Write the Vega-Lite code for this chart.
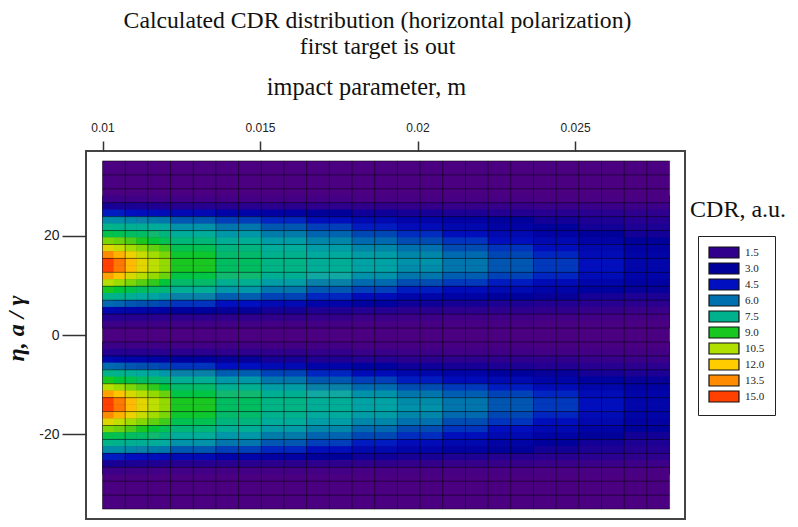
{"$schema":"https://vega.github.io/schema/vega-lite/v6.json","width":599,"height":368,"autosize":{"type":"none"},"padding":{"left":86,"top":151,"right":113,"bottom":8},"background":"white",
"title":{"text":["Calculated CDR distribution (horizontal polarization)","first target is out"],"font":"Liberation Serif","fontSize":23.7,"fontWeight":"normal","color":"#111","lineHeight":26,"anchor":"middle","frame":"group","dx":-8,"offset":16},
"config":{"view":{"stroke":"#444","strokeWidth":2}},
"datasets":{
"base":[{"b":0.01,"b2":0.028,"e":-35,"e2":35,"c":0.5}],
"gridX":[{"b":0.01,"e":-35,"e2":35},{"b":0.01072,"e":-35,"e2":35},{"b":0.01144,"e":-35,"e2":35},{"b":0.01216,"e":-35,"e2":35},{"b":0.01288,"e":-35,"e2":35},{"b":0.0136,"e":-35,"e2":35},{"b":0.01432,"e":-35,"e2":35},{"b":0.01504,"e":-35,"e2":35},{"b":0.01576,"e":-35,"e2":35},{"b":0.01648,"e":-35,"e2":35},{"b":0.0172,"e":-35,"e2":35},{"b":0.01792,"e":-35,"e2":35},{"b":0.01864,"e":-35,"e2":35},{"b":0.01936,"e":-35,"e2":35},{"b":0.02008,"e":-35,"e2":35},{"b":0.0208,"e":-35,"e2":35},{"b":0.02152,"e":-35,"e2":35},{"b":0.02224,"e":-35,"e2":35},{"b":0.02296,"e":-35,"e2":35},{"b":0.02368,"e":-35,"e2":35},{"b":0.0244,"e":-35,"e2":35},{"b":0.02512,"e":-35,"e2":35},{"b":0.02584,"e":-35,"e2":35},{"b":0.02656,"e":-35,"e2":35},{"b":0.02728,"e":-35,"e2":35},{"b":0.028,"e":-35,"e2":35}],
"gridY":[{"e":35,"b":0.01,"b2":0.028},{"e":32.2,"b":0.01,"b2":0.028},{"e":29.4,"b":0.01,"b2":0.028},{"e":26.6,"b":0.01,"b2":0.028},{"e":23.8,"b":0.01,"b2":0.028},{"e":21,"b":0.01,"b2":0.028},{"e":18.2,"b":0.01,"b2":0.028},{"e":15.4,"b":0.01,"b2":0.028},{"e":12.6,"b":0.01,"b2":0.028},{"e":9.8,"b":0.01,"b2":0.028},{"e":7,"b":0.01,"b2":0.028},{"e":4.2,"b":0.01,"b2":0.028},{"e":1.4,"b":0.01,"b2":0.028},{"e":-1.4,"b":0.01,"b2":0.028},{"e":-4.2,"b":0.01,"b2":0.028},{"e":-7,"b":0.01,"b2":0.028},{"e":-9.8,"b":0.01,"b2":0.028},{"e":-12.6,"b":0.01,"b2":0.028},{"e":-15.4,"b":0.01,"b2":0.028},{"e":-18.2,"b":0.01,"b2":0.028},{"e":-21,"b":0.01,"b2":0.028},{"e":-23.8,"b":0.01,"b2":0.028},{"e":-26.6,"b":0.01,"b2":0.028},{"e":-29.4,"b":0.01,"b2":0.028},{"e":-32.2,"b":0.01,"b2":0.028},{"e":-35,"b":0.01,"b2":0.028}],
"note":[{"b":0.02865,"e":25.1,"label":"CDR, a.u."}],
"fine":[
{"b":0.01018,"e":27.3,"c":1.1},{"b":0.01054,"e":27.3,"c":1.1},{"b":0.0109,"e":27.3,"c":1.0},{"b":0.01126,"e":27.3,"c":1.0},{"b":0.01162,"e":27.3,"c":0.9},{"b":0.01198,"e":27.3,"c":0.9},
{"b":0.01018,"e":25.9,"c":2.6},{"b":0.01054,"e":25.9,"c":2.5},{"b":0.0109,"e":25.9,"c":2.5},{"b":0.01126,"e":25.9,"c":2.4},{"b":0.01162,"e":25.9,"c":2.3},{"b":0.01198,"e":25.9,"c":2.2},
{"b":0.01018,"e":24.5,"c":4.6},{"b":0.01054,"e":24.5,"c":4.6},{"b":0.0109,"e":24.5,"c":4.5},{"b":0.01126,"e":24.5,"c":4.4},{"b":0.01162,"e":24.5,"c":4.3},{"b":0.01198,"e":24.5,"c":4.2},
{"b":0.01018,"e":23.1,"c":6.5},{"b":0.01054,"e":23.1,"c":6.5},{"b":0.0109,"e":23.1,"c":6.4},{"b":0.01126,"e":23.1,"c":6.3},{"b":0.01162,"e":23.1,"c":6.2},{"b":0.01198,"e":23.1,"c":6.1},
{"b":0.01018,"e":21.7,"c":7.6},{"b":0.01054,"e":21.7,"c":7.5},{"b":0.0109,"e":21.7,"c":7.4},{"b":0.01126,"e":21.7,"c":7.3},{"b":0.01162,"e":21.7,"c":7.2},{"b":0.01198,"e":21.7,"c":7.1},
{"b":0.01018,"e":20.3,"c":8.6},{"b":0.01054,"e":20.3,"c":8.5},{"b":0.0109,"e":20.3,"c":8.3},{"b":0.01126,"e":20.3,"c":8.2},{"b":0.01162,"e":20.3,"c":8.0},{"b":0.01198,"e":20.3,"c":7.8},
{"b":0.01018,"e":18.9,"c":9.8},{"b":0.01054,"e":18.9,"c":9.6},{"b":0.0109,"e":18.9,"c":9.3},{"b":0.01126,"e":18.9,"c":9.0},{"b":0.01162,"e":18.9,"c":8.8},{"b":0.01198,"e":18.9,"c":8.5},
{"b":0.01018,"e":17.5,"c":11.3},{"b":0.01054,"e":17.5,"c":10.8},{"b":0.0109,"e":17.5,"c":10.3},{"b":0.01126,"e":17.5,"c":9.9},{"b":0.01162,"e":17.5,"c":9.5},{"b":0.01198,"e":17.5,"c":9.2},
{"b":0.01018,"e":16.1,"c":13.5},{"b":0.01054,"e":16.1,"c":12.6},{"b":0.0109,"e":16.1,"c":11.6},{"b":0.01126,"e":16.1,"c":10.9},{"b":0.01162,"e":16.1,"c":10.3},{"b":0.01198,"e":16.1,"c":9.8},
{"b":0.01018,"e":14.7,"c":15.4},{"b":0.01054,"e":14.7,"c":14.0},{"b":0.0109,"e":14.7,"c":12.4},{"b":0.01126,"e":14.7,"c":11.4},{"b":0.01162,"e":14.7,"c":10.7},{"b":0.01198,"e":14.7,"c":10.1},
{"b":0.01018,"e":13.3,"c":15.4},{"b":0.01054,"e":13.3,"c":13.9},{"b":0.0109,"e":13.3,"c":12.4},{"b":0.01126,"e":13.3,"c":11.4},{"b":0.01162,"e":13.3,"c":10.7},{"b":0.01198,"e":13.3,"c":10.1},
{"b":0.01018,"e":11.9,"c":13.0},{"b":0.01054,"e":11.9,"c":12.2},{"b":0.0109,"e":11.9,"c":11.2},{"b":0.01126,"e":11.9,"c":10.6},{"b":0.01162,"e":11.9,"c":10.1},{"b":0.01198,"e":11.9,"c":9.6},
{"b":0.01018,"e":10.5,"c":10.6},{"b":0.01054,"e":10.5,"c":10.2},{"b":0.0109,"e":10.5,"c":9.8},{"b":0.01126,"e":10.5,"c":9.4},{"b":0.01162,"e":10.5,"c":9.1},{"b":0.01198,"e":10.5,"c":8.8},
{"b":0.01018,"e":9.1,"c":9.0},{"b":0.01054,"e":9.1,"c":8.8},{"b":0.0109,"e":9.1,"c":8.6},{"b":0.01126,"e":9.1,"c":8.3},{"b":0.01162,"e":9.1,"c":8.1},{"b":0.01198,"e":9.1,"c":7.9},
{"b":0.01018,"e":7.7,"c":7.6},{"b":0.01054,"e":7.7,"c":7.5},{"b":0.0109,"e":7.7,"c":7.3},{"b":0.01126,"e":7.7,"c":7.1},{"b":0.01162,"e":7.7,"c":6.9},{"b":0.01198,"e":7.7,"c":6.7},
{"b":0.01018,"e":6.3,"c":5.9},{"b":0.01054,"e":6.3,"c":5.8},{"b":0.0109,"e":6.3,"c":5.6},{"b":0.01126,"e":6.3,"c":5.5},{"b":0.01162,"e":6.3,"c":5.4},{"b":0.01198,"e":6.3,"c":5.2},
{"b":0.01018,"e":4.9,"c":3.8},{"b":0.01054,"e":4.9,"c":3.7},{"b":0.0109,"e":4.9,"c":3.6},{"b":0.01126,"e":4.9,"c":3.5},{"b":0.01162,"e":4.9,"c":3.4},{"b":0.01198,"e":4.9,"c":3.3},
{"b":0.01018,"e":3.5,"c":2.1},{"b":0.01054,"e":3.5,"c":2.1},{"b":0.0109,"e":3.5,"c":2.0},{"b":0.01126,"e":3.5,"c":2.0},{"b":0.01162,"e":3.5,"c":1.9},{"b":0.01198,"e":3.5,"c":1.9},
{"b":0.01018,"e":2.1,"c":1.1},{"b":0.01054,"e":2.1,"c":1.1},{"b":0.0109,"e":2.1,"c":1.0},{"b":0.01126,"e":2.1,"c":1.0},{"b":0.01162,"e":2.1,"c":1.0},{"b":0.01198,"e":2.1,"c":1.0},
{"b":0.01018,"e":-2.1,"c":1.1},{"b":0.01054,"e":-2.1,"c":1.1},{"b":0.0109,"e":-2.1,"c":1.0},{"b":0.01126,"e":-2.1,"c":1.0},{"b":0.01162,"e":-2.1,"c":1.0},{"b":0.01198,"e":-2.1,"c":1.0},
{"b":0.01018,"e":-3.5,"c":2.1},{"b":0.01054,"e":-3.5,"c":2.1},{"b":0.0109,"e":-3.5,"c":2.0},{"b":0.01126,"e":-3.5,"c":2.0},{"b":0.01162,"e":-3.5,"c":1.9},{"b":0.01198,"e":-3.5,"c":1.9},
{"b":0.01018,"e":-4.9,"c":3.8},{"b":0.01054,"e":-4.9,"c":3.7},{"b":0.0109,"e":-4.9,"c":3.6},{"b":0.01126,"e":-4.9,"c":3.5},{"b":0.01162,"e":-4.9,"c":3.4},{"b":0.01198,"e":-4.9,"c":3.3},
{"b":0.01018,"e":-6.3,"c":5.9},{"b":0.01054,"e":-6.3,"c":5.8},{"b":0.0109,"e":-6.3,"c":5.6},{"b":0.01126,"e":-6.3,"c":5.5},{"b":0.01162,"e":-6.3,"c":5.4},{"b":0.01198,"e":-6.3,"c":5.2},
{"b":0.01018,"e":-7.7,"c":7.6},{"b":0.01054,"e":-7.7,"c":7.5},{"b":0.0109,"e":-7.7,"c":7.3},{"b":0.01126,"e":-7.7,"c":7.1},{"b":0.01162,"e":-7.7,"c":6.9},{"b":0.01198,"e":-7.7,"c":6.7},
{"b":0.01018,"e":-9.1,"c":9.0},{"b":0.01054,"e":-9.1,"c":8.8},{"b":0.0109,"e":-9.1,"c":8.6},{"b":0.01126,"e":-9.1,"c":8.3},{"b":0.01162,"e":-9.1,"c":8.1},{"b":0.01198,"e":-9.1,"c":7.9},
{"b":0.01018,"e":-10.5,"c":10.6},{"b":0.01054,"e":-10.5,"c":10.2},{"b":0.0109,"e":-10.5,"c":9.8},{"b":0.01126,"e":-10.5,"c":9.4},{"b":0.01162,"e":-10.5,"c":9.1},{"b":0.01198,"e":-10.5,"c":8.8},
{"b":0.01018,"e":-11.9,"c":13.0},{"b":0.01054,"e":-11.9,"c":12.2},{"b":0.0109,"e":-11.9,"c":11.2},{"b":0.01126,"e":-11.9,"c":10.6},{"b":0.01162,"e":-11.9,"c":10.1},{"b":0.01198,"e":-11.9,"c":9.6},
{"b":0.01018,"e":-13.3,"c":15.4},{"b":0.01054,"e":-13.3,"c":13.9},{"b":0.0109,"e":-13.3,"c":12.4},{"b":0.01126,"e":-13.3,"c":11.4},{"b":0.01162,"e":-13.3,"c":10.7},{"b":0.01198,"e":-13.3,"c":10.1},
{"b":0.01018,"e":-14.7,"c":15.4},{"b":0.01054,"e":-14.7,"c":14.0},{"b":0.0109,"e":-14.7,"c":12.4},{"b":0.01126,"e":-14.7,"c":11.4},{"b":0.01162,"e":-14.7,"c":10.7},{"b":0.01198,"e":-14.7,"c":10.1},
{"b":0.01018,"e":-16.1,"c":13.5},{"b":0.01054,"e":-16.1,"c":12.6},{"b":0.0109,"e":-16.1,"c":11.6},{"b":0.01126,"e":-16.1,"c":10.9},{"b":0.01162,"e":-16.1,"c":10.3},{"b":0.01198,"e":-16.1,"c":9.8},
{"b":0.01018,"e":-17.5,"c":11.3},{"b":0.01054,"e":-17.5,"c":10.8},{"b":0.0109,"e":-17.5,"c":10.3},{"b":0.01126,"e":-17.5,"c":9.9},{"b":0.01162,"e":-17.5,"c":9.5},{"b":0.01198,"e":-17.5,"c":9.2},
{"b":0.01018,"e":-18.9,"c":9.8},{"b":0.01054,"e":-18.9,"c":9.6},{"b":0.0109,"e":-18.9,"c":9.3},{"b":0.01126,"e":-18.9,"c":9.0},{"b":0.01162,"e":-18.9,"c":8.8},{"b":0.01198,"e":-18.9,"c":8.5},
{"b":0.01018,"e":-20.3,"c":8.6},{"b":0.01054,"e":-20.3,"c":8.5},{"b":0.0109,"e":-20.3,"c":8.3},{"b":0.01126,"e":-20.3,"c":8.2},{"b":0.01162,"e":-20.3,"c":8.0},{"b":0.01198,"e":-20.3,"c":7.8},
{"b":0.01018,"e":-21.7,"c":7.6},{"b":0.01054,"e":-21.7,"c":7.5},{"b":0.0109,"e":-21.7,"c":7.4},{"b":0.01126,"e":-21.7,"c":7.3},{"b":0.01162,"e":-21.7,"c":7.2},{"b":0.01198,"e":-21.7,"c":7.1},
{"b":0.01018,"e":-23.1,"c":6.5},{"b":0.01054,"e":-23.1,"c":6.5},{"b":0.0109,"e":-23.1,"c":6.4},{"b":0.01126,"e":-23.1,"c":6.3},{"b":0.01162,"e":-23.1,"c":6.2},{"b":0.01198,"e":-23.1,"c":6.1},
{"b":0.01018,"e":-24.5,"c":4.6},{"b":0.01054,"e":-24.5,"c":4.6},{"b":0.0109,"e":-24.5,"c":4.5},{"b":0.01126,"e":-24.5,"c":4.4},{"b":0.01162,"e":-24.5,"c":4.3},{"b":0.01198,"e":-24.5,"c":4.2},
{"b":0.01018,"e":-25.9,"c":2.6},{"b":0.01054,"e":-25.9,"c":2.5},{"b":0.0109,"e":-25.9,"c":2.5},{"b":0.01126,"e":-25.9,"c":2.4},{"b":0.01162,"e":-25.9,"c":2.3},{"b":0.01198,"e":-25.9,"c":2.2},
{"b":0.01018,"e":-27.3,"c":1.1},{"b":0.01054,"e":-27.3,"c":1.1},{"b":0.0109,"e":-27.3,"c":1.0},{"b":0.01126,"e":-27.3,"c":1.0},{"b":0.01162,"e":-27.3,"c":0.9},{"b":0.01198,"e":-27.3,"c":0.9}
],
"coarse":[
{"b":0.01288,"e":27.3,"c":0.9},{"b":0.01432,"e":27.3,"c":0.8},{"b":0.01576,"e":27.3,"c":0.8},{"b":0.0172,"e":27.3,"c":0.8},{"b":0.01864,"e":27.3,"c":0.7},{"b":0.02008,"e":27.3,"c":0.7},{"b":0.02152,"e":27.3,"c":0.7},{"b":0.02296,"e":27.3,"c":0.7},{"b":0.0244,"e":27.3,"c":0.6},{"b":0.02584,"e":27.3,"c":0.6},{"b":0.02728,"e":27.3,"c":0.6},
{"b":0.01288,"e":25.9,"c":2.0},{"b":0.01432,"e":25.9,"c":1.9},{"b":0.01576,"e":25.9,"c":1.8},{"b":0.0172,"e":25.9,"c":1.6},{"b":0.01864,"e":25.9,"c":1.5},{"b":0.02008,"e":25.9,"c":1.4},{"b":0.02152,"e":25.9,"c":1.3},{"b":0.02296,"e":25.9,"c":1.3},{"b":0.0244,"e":25.9,"c":1.2},{"b":0.02584,"e":25.9,"c":1.2},{"b":0.02728,"e":25.9,"c":1.1},
{"b":0.01288,"e":24.5,"c":4.0},{"b":0.01432,"e":24.5,"c":3.6},{"b":0.01576,"e":24.5,"c":3.3},{"b":0.0172,"e":24.5,"c":3.0},{"b":0.01864,"e":24.5,"c":2.8},{"b":0.02008,"e":24.5,"c":2.6},{"b":0.02152,"e":24.5,"c":2.4},{"b":0.02296,"e":24.5,"c":2.2},{"b":0.0244,"e":24.5,"c":2.0},{"b":0.02584,"e":24.5,"c":1.9},{"b":0.02728,"e":24.5,"c":1.7},
{"b":0.01288,"e":23.1,"c":5.6},{"b":0.01432,"e":23.1,"c":5.1},{"b":0.01576,"e":23.1,"c":4.7},{"b":0.0172,"e":23.1,"c":4.3},{"b":0.01864,"e":23.1,"c":3.9},{"b":0.02008,"e":23.1,"c":3.6},{"b":0.02152,"e":23.1,"c":3.3},{"b":0.02296,"e":23.1,"c":3.0},{"b":0.0244,"e":23.1,"c":2.7},{"b":0.02584,"e":23.1,"c":2.4},{"b":0.02728,"e":23.1,"c":2.1},
{"b":0.01288,"e":21.7,"c":6.6},{"b":0.01432,"e":21.7,"c":6.1},{"b":0.01576,"e":21.7,"c":5.6},{"b":0.0172,"e":21.7,"c":5.1},{"b":0.01864,"e":21.7,"c":4.6},{"b":0.02008,"e":21.7,"c":4.2},{"b":0.02152,"e":21.7,"c":3.8},{"b":0.02296,"e":21.7,"c":3.4},{"b":0.0244,"e":21.7,"c":3.0},{"b":0.02584,"e":21.7,"c":2.7},{"b":0.02728,"e":21.7,"c":2.4},
{"b":0.01288,"e":20.3,"c":7.2},{"b":0.01432,"e":20.3,"c":6.7},{"b":0.01576,"e":20.3,"c":6.2},{"b":0.0172,"e":20.3,"c":5.8},{"b":0.01864,"e":20.3,"c":5.3},{"b":0.02008,"e":20.3,"c":4.8},{"b":0.02152,"e":20.3,"c":4.3},{"b":0.02296,"e":20.3,"c":3.9},{"b":0.0244,"e":20.3,"c":3.4},{"b":0.02584,"e":20.3,"c":3.0},{"b":0.02728,"e":20.3,"c":2.7},
{"b":0.01288,"e":18.9,"c":7.9},{"b":0.01432,"e":18.9,"c":7.3},{"b":0.01576,"e":18.9,"c":6.8},{"b":0.0172,"e":18.9,"c":6.4},{"b":0.01864,"e":18.9,"c":5.9},{"b":0.02008,"e":18.9,"c":5.4},{"b":0.02152,"e":18.9,"c":4.9},{"b":0.02296,"e":18.9,"c":4.4},{"b":0.0244,"e":18.9,"c":3.9},{"b":0.02584,"e":18.9,"c":3.4},{"b":0.02728,"e":18.9,"c":3.0},
{"b":0.01288,"e":17.5,"c":8.5},{"b":0.01432,"e":17.5,"c":7.8},{"b":0.01576,"e":17.5,"c":7.2},{"b":0.0172,"e":17.5,"c":6.8},{"b":0.01864,"e":17.5,"c":6.4},{"b":0.02008,"e":17.5,"c":6.0},{"b":0.02152,"e":17.5,"c":5.4},{"b":0.02296,"e":17.5,"c":4.9},{"b":0.0244,"e":17.5,"c":4.3},{"b":0.02584,"e":17.5,"c":3.8},{"b":0.02728,"e":17.5,"c":3.3},
{"b":0.01288,"e":16.1,"c":8.9},{"b":0.01432,"e":16.1,"c":8.1},{"b":0.01576,"e":16.1,"c":7.5},{"b":0.0172,"e":16.1,"c":7.1},{"b":0.01864,"e":16.1,"c":6.8},{"b":0.02008,"e":16.1,"c":6.4},{"b":0.02152,"e":16.1,"c":5.9},{"b":0.02296,"e":16.1,"c":5.3},{"b":0.0244,"e":16.1,"c":4.7},{"b":0.02584,"e":16.1,"c":4.1},{"b":0.02728,"e":16.1,"c":3.5},
{"b":0.01288,"e":14.7,"c":9.0},{"b":0.01432,"e":14.7,"c":8.3},{"b":0.01576,"e":14.7,"c":7.7},{"b":0.0172,"e":14.7,"c":7.3},{"b":0.01864,"e":14.7,"c":6.9},{"b":0.02008,"e":14.7,"c":6.6},{"b":0.02152,"e":14.7,"c":6.1},{"b":0.02296,"e":14.7,"c":5.6},{"b":0.0244,"e":14.7,"c":5.0},{"b":0.02584,"e":14.7,"c":4.4},{"b":0.02728,"e":14.7,"c":3.7},
{"b":0.01288,"e":13.3,"c":9.0},{"b":0.01432,"e":13.3,"c":8.3},{"b":0.01576,"e":13.3,"c":7.7},{"b":0.0172,"e":13.3,"c":7.3},{"b":0.01864,"e":13.3,"c":6.9},{"b":0.02008,"e":13.3,"c":6.5},{"b":0.02152,"e":13.3,"c":6.1},{"b":0.02296,"e":13.3,"c":5.6},{"b":0.0244,"e":13.3,"c":5.0},{"b":0.02584,"e":13.3,"c":4.4},{"b":0.02728,"e":13.3,"c":3.7},
{"b":0.01288,"e":11.9,"c":8.7},{"b":0.01432,"e":11.9,"c":8.0},{"b":0.01576,"e":11.9,"c":7.4},{"b":0.0172,"e":11.9,"c":7.0},{"b":0.01864,"e":11.9,"c":6.6},{"b":0.02008,"e":11.9,"c":6.1},{"b":0.02152,"e":11.9,"c":5.7},{"b":0.02296,"e":11.9,"c":5.2},{"b":0.0244,"e":11.9,"c":4.7},{"b":0.02584,"e":11.9,"c":4.1},{"b":0.02728,"e":11.9,"c":3.6},
{"b":0.01288,"e":10.5,"c":8.1},{"b":0.01432,"e":10.5,"c":7.4},{"b":0.01576,"e":10.5,"c":6.8},{"b":0.0172,"e":10.5,"c":6.3},{"b":0.01864,"e":10.5,"c":5.9},{"b":0.02008,"e":10.5,"c":5.4},{"b":0.02152,"e":10.5,"c":5.0},{"b":0.02296,"e":10.5,"c":4.6},{"b":0.0244,"e":10.5,"c":4.1},{"b":0.02584,"e":10.5,"c":3.7},{"b":0.02728,"e":10.5,"c":3.3},
{"b":0.01288,"e":9.1,"c":7.3},{"b":0.01432,"e":9.1,"c":6.7},{"b":0.01576,"e":9.1,"c":6.1},{"b":0.0172,"e":9.1,"c":5.6},{"b":0.01864,"e":9.1,"c":5.1},{"b":0.02008,"e":9.1,"c":4.6},{"b":0.02152,"e":9.1,"c":4.2},{"b":0.02296,"e":9.1,"c":3.9},{"b":0.0244,"e":9.1,"c":3.5},{"b":0.02584,"e":9.1,"c":3.2},{"b":0.02728,"e":9.1,"c":2.9},
{"b":0.01288,"e":7.7,"c":6.3},{"b":0.01432,"e":7.7,"c":5.7},{"b":0.01576,"e":7.7,"c":5.2},{"b":0.0172,"e":7.7,"c":4.7},{"b":0.01864,"e":7.7,"c":4.2},{"b":0.02008,"e":7.7,"c":3.7},{"b":0.02152,"e":7.7,"c":3.4},{"b":0.02296,"e":7.7,"c":3.1},{"b":0.0244,"e":7.7,"c":2.9},{"b":0.02584,"e":7.7,"c":2.6},{"b":0.02728,"e":7.7,"c":2.4},
{"b":0.01288,"e":6.3,"c":4.9},{"b":0.01432,"e":6.3,"c":4.5},{"b":0.01576,"e":6.3,"c":4.0},{"b":0.0172,"e":6.3,"c":3.6},{"b":0.01864,"e":6.3,"c":3.2},{"b":0.02008,"e":6.3,"c":2.8},{"b":0.02152,"e":6.3,"c":2.6},{"b":0.02296,"e":6.3,"c":2.4},{"b":0.0244,"e":6.3,"c":2.2},{"b":0.02584,"e":6.3,"c":2.0},{"b":0.02728,"e":6.3,"c":1.8},
{"b":0.01288,"e":4.9,"c":3.1},{"b":0.01432,"e":4.9,"c":2.9},{"b":0.01576,"e":4.9,"c":2.6},{"b":0.0172,"e":4.9,"c":2.3},{"b":0.01864,"e":4.9,"c":2.1},{"b":0.02008,"e":4.9,"c":1.8},{"b":0.02152,"e":4.9,"c":1.7},{"b":0.02296,"e":4.9,"c":1.6},{"b":0.0244,"e":4.9,"c":1.5},{"b":0.02584,"e":4.9,"c":1.3},{"b":0.02728,"e":4.9,"c":1.2},
{"b":0.01288,"e":3.5,"c":1.8},{"b":0.01432,"e":3.5,"c":1.6},{"b":0.01576,"e":3.5,"c":1.5},{"b":0.0172,"e":3.5,"c":1.4},{"b":0.01864,"e":3.5,"c":1.2},{"b":0.02008,"e":3.5,"c":1.1},{"b":0.02152,"e":3.5,"c":1.0},{"b":0.02296,"e":3.5,"c":1.0},{"b":0.0244,"e":3.5,"c":0.9},{"b":0.02584,"e":3.5,"c":0.9},{"b":0.02728,"e":3.5,"c":0.8},
{"b":0.01288,"e":2.1,"c":0.9},{"b":0.01432,"e":2.1,"c":0.9},{"b":0.01576,"e":2.1,"c":0.8},{"b":0.0172,"e":2.1,"c":0.8},{"b":0.01864,"e":2.1,"c":0.7},{"b":0.02008,"e":2.1,"c":0.7},{"b":0.02152,"e":2.1,"c":0.7},{"b":0.02296,"e":2.1,"c":0.7},{"b":0.0244,"e":2.1,"c":0.6},{"b":0.02584,"e":2.1,"c":0.6},{"b":0.02728,"e":2.1,"c":0.6},
{"b":0.01288,"e":-2.1,"c":0.9},{"b":0.01432,"e":-2.1,"c":0.9},{"b":0.01576,"e":-2.1,"c":0.8},{"b":0.0172,"e":-2.1,"c":0.8},{"b":0.01864,"e":-2.1,"c":0.7},{"b":0.02008,"e":-2.1,"c":0.7},{"b":0.02152,"e":-2.1,"c":0.7},{"b":0.02296,"e":-2.1,"c":0.7},{"b":0.0244,"e":-2.1,"c":0.6},{"b":0.02584,"e":-2.1,"c":0.6},{"b":0.02728,"e":-2.1,"c":0.6},
{"b":0.01288,"e":-3.5,"c":1.8},{"b":0.01432,"e":-3.5,"c":1.6},{"b":0.01576,"e":-3.5,"c":1.5},{"b":0.0172,"e":-3.5,"c":1.4},{"b":0.01864,"e":-3.5,"c":1.2},{"b":0.02008,"e":-3.5,"c":1.1},{"b":0.02152,"e":-3.5,"c":1.0},{"b":0.02296,"e":-3.5,"c":1.0},{"b":0.0244,"e":-3.5,"c":0.9},{"b":0.02584,"e":-3.5,"c":0.9},{"b":0.02728,"e":-3.5,"c":0.8},
{"b":0.01288,"e":-4.9,"c":3.1},{"b":0.01432,"e":-4.9,"c":2.9},{"b":0.01576,"e":-4.9,"c":2.6},{"b":0.0172,"e":-4.9,"c":2.3},{"b":0.01864,"e":-4.9,"c":2.1},{"b":0.02008,"e":-4.9,"c":1.8},{"b":0.02152,"e":-4.9,"c":1.7},{"b":0.02296,"e":-4.9,"c":1.6},{"b":0.0244,"e":-4.9,"c":1.5},{"b":0.02584,"e":-4.9,"c":1.3},{"b":0.02728,"e":-4.9,"c":1.2},
{"b":0.01288,"e":-6.3,"c":4.9},{"b":0.01432,"e":-6.3,"c":4.5},{"b":0.01576,"e":-6.3,"c":4.0},{"b":0.0172,"e":-6.3,"c":3.6},{"b":0.01864,"e":-6.3,"c":3.2},{"b":0.02008,"e":-6.3,"c":2.8},{"b":0.02152,"e":-6.3,"c":2.6},{"b":0.02296,"e":-6.3,"c":2.4},{"b":0.0244,"e":-6.3,"c":2.2},{"b":0.02584,"e":-6.3,"c":2.0},{"b":0.02728,"e":-6.3,"c":1.8},
{"b":0.01288,"e":-7.7,"c":6.3},{"b":0.01432,"e":-7.7,"c":5.7},{"b":0.01576,"e":-7.7,"c":5.2},{"b":0.0172,"e":-7.7,"c":4.7},{"b":0.01864,"e":-7.7,"c":4.2},{"b":0.02008,"e":-7.7,"c":3.7},{"b":0.02152,"e":-7.7,"c":3.4},{"b":0.02296,"e":-7.7,"c":3.1},{"b":0.0244,"e":-7.7,"c":2.9},{"b":0.02584,"e":-7.7,"c":2.6},{"b":0.02728,"e":-7.7,"c":2.4},
{"b":0.01288,"e":-9.1,"c":7.3},{"b":0.01432,"e":-9.1,"c":6.7},{"b":0.01576,"e":-9.1,"c":6.1},{"b":0.0172,"e":-9.1,"c":5.6},{"b":0.01864,"e":-9.1,"c":5.1},{"b":0.02008,"e":-9.1,"c":4.6},{"b":0.02152,"e":-9.1,"c":4.2},{"b":0.02296,"e":-9.1,"c":3.9},{"b":0.0244,"e":-9.1,"c":3.5},{"b":0.02584,"e":-9.1,"c":3.2},{"b":0.02728,"e":-9.1,"c":2.9},
{"b":0.01288,"e":-10.5,"c":8.1},{"b":0.01432,"e":-10.5,"c":7.4},{"b":0.01576,"e":-10.5,"c":6.8},{"b":0.0172,"e":-10.5,"c":6.3},{"b":0.01864,"e":-10.5,"c":5.9},{"b":0.02008,"e":-10.5,"c":5.4},{"b":0.02152,"e":-10.5,"c":5.0},{"b":0.02296,"e":-10.5,"c":4.6},{"b":0.0244,"e":-10.5,"c":4.1},{"b":0.02584,"e":-10.5,"c":3.7},{"b":0.02728,"e":-10.5,"c":3.3},
{"b":0.01288,"e":-11.9,"c":8.7},{"b":0.01432,"e":-11.9,"c":8.0},{"b":0.01576,"e":-11.9,"c":7.4},{"b":0.0172,"e":-11.9,"c":7.0},{"b":0.01864,"e":-11.9,"c":6.6},{"b":0.02008,"e":-11.9,"c":6.1},{"b":0.02152,"e":-11.9,"c":5.7},{"b":0.02296,"e":-11.9,"c":5.2},{"b":0.0244,"e":-11.9,"c":4.7},{"b":0.02584,"e":-11.9,"c":4.1},{"b":0.02728,"e":-11.9,"c":3.6},
{"b":0.01288,"e":-13.3,"c":9.0},{"b":0.01432,"e":-13.3,"c":8.3},{"b":0.01576,"e":-13.3,"c":7.7},{"b":0.0172,"e":-13.3,"c":7.3},{"b":0.01864,"e":-13.3,"c":6.9},{"b":0.02008,"e":-13.3,"c":6.5},{"b":0.02152,"e":-13.3,"c":6.1},{"b":0.02296,"e":-13.3,"c":5.6},{"b":0.0244,"e":-13.3,"c":5.0},{"b":0.02584,"e":-13.3,"c":4.4},{"b":0.02728,"e":-13.3,"c":3.7},
{"b":0.01288,"e":-14.7,"c":9.0},{"b":0.01432,"e":-14.7,"c":8.3},{"b":0.01576,"e":-14.7,"c":7.7},{"b":0.0172,"e":-14.7,"c":7.3},{"b":0.01864,"e":-14.7,"c":6.9},{"b":0.02008,"e":-14.7,"c":6.6},{"b":0.02152,"e":-14.7,"c":6.1},{"b":0.02296,"e":-14.7,"c":5.6},{"b":0.0244,"e":-14.7,"c":5.0},{"b":0.02584,"e":-14.7,"c":4.4},{"b":0.02728,"e":-14.7,"c":3.7},
{"b":0.01288,"e":-16.1,"c":8.9},{"b":0.01432,"e":-16.1,"c":8.1},{"b":0.01576,"e":-16.1,"c":7.5},{"b":0.0172,"e":-16.1,"c":7.1},{"b":0.01864,"e":-16.1,"c":6.8},{"b":0.02008,"e":-16.1,"c":6.4},{"b":0.02152,"e":-16.1,"c":5.9},{"b":0.02296,"e":-16.1,"c":5.3},{"b":0.0244,"e":-16.1,"c":4.7},{"b":0.02584,"e":-16.1,"c":4.1},{"b":0.02728,"e":-16.1,"c":3.5},
{"b":0.01288,"e":-17.5,"c":8.5},{"b":0.01432,"e":-17.5,"c":7.8},{"b":0.01576,"e":-17.5,"c":7.2},{"b":0.0172,"e":-17.5,"c":6.8},{"b":0.01864,"e":-17.5,"c":6.4},{"b":0.02008,"e":-17.5,"c":6.0},{"b":0.02152,"e":-17.5,"c":5.4},{"b":0.02296,"e":-17.5,"c":4.9},{"b":0.0244,"e":-17.5,"c":4.3},{"b":0.02584,"e":-17.5,"c":3.8},{"b":0.02728,"e":-17.5,"c":3.3},
{"b":0.01288,"e":-18.9,"c":7.9},{"b":0.01432,"e":-18.9,"c":7.3},{"b":0.01576,"e":-18.9,"c":6.8},{"b":0.0172,"e":-18.9,"c":6.4},{"b":0.01864,"e":-18.9,"c":5.9},{"b":0.02008,"e":-18.9,"c":5.4},{"b":0.02152,"e":-18.9,"c":4.9},{"b":0.02296,"e":-18.9,"c":4.4},{"b":0.0244,"e":-18.9,"c":3.9},{"b":0.02584,"e":-18.9,"c":3.4},{"b":0.02728,"e":-18.9,"c":3.0},
{"b":0.01288,"e":-20.3,"c":7.2},{"b":0.01432,"e":-20.3,"c":6.7},{"b":0.01576,"e":-20.3,"c":6.2},{"b":0.0172,"e":-20.3,"c":5.8},{"b":0.01864,"e":-20.3,"c":5.3},{"b":0.02008,"e":-20.3,"c":4.8},{"b":0.02152,"e":-20.3,"c":4.3},{"b":0.02296,"e":-20.3,"c":3.9},{"b":0.0244,"e":-20.3,"c":3.4},{"b":0.02584,"e":-20.3,"c":3.0},{"b":0.02728,"e":-20.3,"c":2.7},
{"b":0.01288,"e":-21.7,"c":6.6},{"b":0.01432,"e":-21.7,"c":6.1},{"b":0.01576,"e":-21.7,"c":5.6},{"b":0.0172,"e":-21.7,"c":5.1},{"b":0.01864,"e":-21.7,"c":4.6},{"b":0.02008,"e":-21.7,"c":4.2},{"b":0.02152,"e":-21.7,"c":3.8},{"b":0.02296,"e":-21.7,"c":3.4},{"b":0.0244,"e":-21.7,"c":3.0},{"b":0.02584,"e":-21.7,"c":2.7},{"b":0.02728,"e":-21.7,"c":2.4},
{"b":0.01288,"e":-23.1,"c":5.6},{"b":0.01432,"e":-23.1,"c":5.1},{"b":0.01576,"e":-23.1,"c":4.7},{"b":0.0172,"e":-23.1,"c":4.3},{"b":0.01864,"e":-23.1,"c":3.9},{"b":0.02008,"e":-23.1,"c":3.6},{"b":0.02152,"e":-23.1,"c":3.3},{"b":0.02296,"e":-23.1,"c":3.0},{"b":0.0244,"e":-23.1,"c":2.7},{"b":0.02584,"e":-23.1,"c":2.4},{"b":0.02728,"e":-23.1,"c":2.1},
{"b":0.01288,"e":-24.5,"c":4.0},{"b":0.01432,"e":-24.5,"c":3.6},{"b":0.01576,"e":-24.5,"c":3.3},{"b":0.0172,"e":-24.5,"c":3.0},{"b":0.01864,"e":-24.5,"c":2.8},{"b":0.02008,"e":-24.5,"c":2.6},{"b":0.02152,"e":-24.5,"c":2.4},{"b":0.02296,"e":-24.5,"c":2.2},{"b":0.0244,"e":-24.5,"c":2.0},{"b":0.02584,"e":-24.5,"c":1.9},{"b":0.02728,"e":-24.5,"c":1.7},
{"b":0.01288,"e":-25.9,"c":2.0},{"b":0.01432,"e":-25.9,"c":1.9},{"b":0.01576,"e":-25.9,"c":1.8},{"b":0.0172,"e":-25.9,"c":1.6},{"b":0.01864,"e":-25.9,"c":1.5},{"b":0.02008,"e":-25.9,"c":1.4},{"b":0.02152,"e":-25.9,"c":1.3},{"b":0.02296,"e":-25.9,"c":1.3},{"b":0.0244,"e":-25.9,"c":1.2},{"b":0.02584,"e":-25.9,"c":1.2},{"b":0.02728,"e":-25.9,"c":1.1},
{"b":0.01288,"e":-27.3,"c":0.9},{"b":0.01432,"e":-27.3,"c":0.8},{"b":0.01576,"e":-27.3,"c":0.8},{"b":0.0172,"e":-27.3,"c":0.8},{"b":0.01864,"e":-27.3,"c":0.7},{"b":0.02008,"e":-27.3,"c":0.7},{"b":0.02152,"e":-27.3,"c":0.7},{"b":0.02296,"e":-27.3,"c":0.7},{"b":0.0244,"e":-27.3,"c":0.6},{"b":0.02584,"e":-27.3,"c":0.6},{"b":0.02728,"e":-27.3,"c":0.6}
]},
"encoding":{
"x":{"field":"b","type":"quantitative","scale":{"domain":[0.009476,0.02849],"nice":false,"zero":false},"axis":{"orient":"top","values":[0.01,0.015,0.02,0.025],"grid":false,"domain":false,"tickSize":10,"tickWidth":1.5,"tickColor":"#333","labelFont":"Liberation Sans","labelFontSize":12,"labelColor":"#222","labelPadding":7,"labelFlush":false,"format":"~g","title":"impact parameter, m","titleFont":"Liberation Serif","titleFontSize":24.3,"titleFontWeight":"normal","titleColor":"#111","titleX":280,"titleY":-52}},
"y":{"field":"e","type":"quantitative","scale":{"domain":[-37,37],"nice":false,"zero":false},"axis":{"values":[-20,0,20],"grid":false,"domain":false,"tickSize":24,"tickWidth":1.5,"tickColor":"#333","labelFont":"Liberation Sans","labelFontSize":14,"labelColor":"#222","labelPadding":3,"labelExpr":"datum.value+''","title":"η, a / γ","titleFont":"Liberation Serif","titleFontSize":24,"titleFontStyle":"italic","titleFontWeight":"bold","titleColor":"#111","titleAngle":-90,"titleX":-58,"titleY":177}},
"color":{"field":"c","type":"quantitative","scale":{"domain":[0.5,1.5,3,4.5,5.5,6.3,7,8,9,10.5,12,13.5,15],"range":["#4b0082","#30008c","#00009a","#0010c0","#0050b0","#0880a8","#10a8a0","#10b870","#18c820","#b0e000","#ffcc00","#ff8c00","#ff4000"],"clamp":true},
"legend":{"type":"symbol","values":[1.5,3,4.5,6,7.5,9,10.5,12,13.5,15],"title":null,"orient":"none","legendX":612,"legendY":85,"padding":10,"strokeColor":"#222","fillColor":"white","symbolType":"M-1,-1H4.45V1H-1Z","symbolSize":121,"symbolStrokeColor":"#111","symbolStrokeWidth":1.2,"symbolOpacity":1,"labelFont":"Liberation Serif","labelFontSize":11,"labelColor":"#222","labelOffset":24,"rowPadding":-1,"format":".1f"}}
},
"layer":[
{"data":{"name":"base"},"mark":{"type":"rect"},"encoding":{"x2":{"field":"b2"},"y2":{"field":"e2"}}},
{"data":{"name":"coarse"},"mark":{"type":"rect","width":45.8,"height":7.4}},
{"data":{"name":"fine"},"mark":{"type":"rect","width":11.8,"height":7.4}},
{"data":{"name":"gridX"},"mark":{"type":"rule","strokeWidth":1,"opacity":0.5},"encoding":{"y2":{"field":"e2"},"color":{"value":"#000"}}},
{"data":{"name":"gridY"},"mark":{"type":"rule","strokeWidth":1,"opacity":0.5},"encoding":{"x2":{"field":"b2"},"color":{"value":"#000"}}},
{"data":{"name":"note"},"mark":{"type":"text","align":"left","baseline":"middle","clip":false,"font":"Liberation Serif","fontSize":24},"encoding":{"text":{"field":"label"},"color":{"value":"#111"}}}
]}
